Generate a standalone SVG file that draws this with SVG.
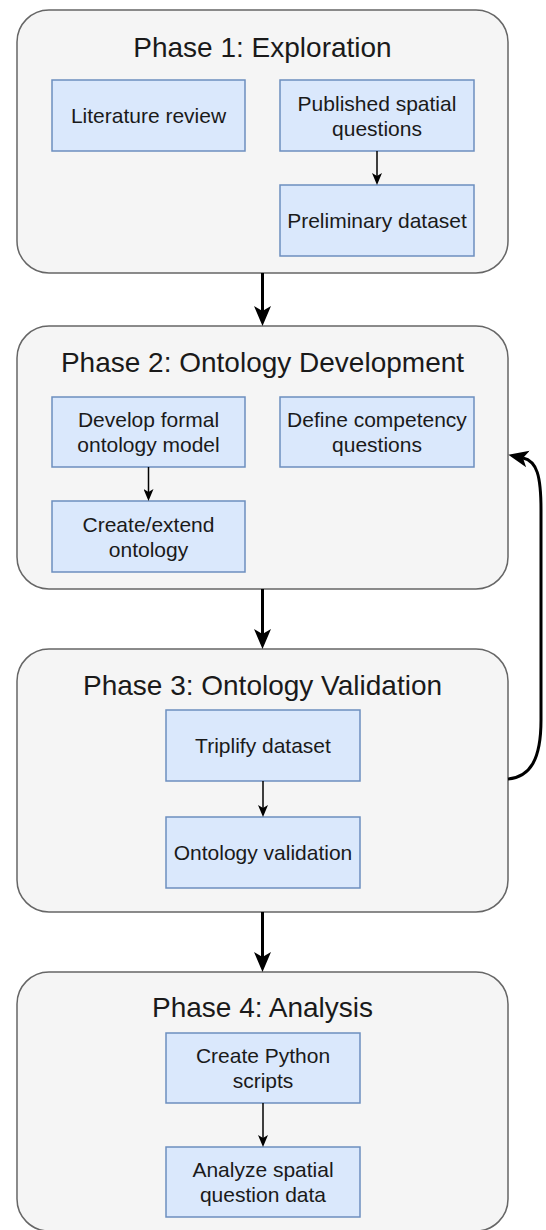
<svg xmlns="http://www.w3.org/2000/svg" width="546" height="1230" viewBox="0 0 546 1230">
<style>
.phase{fill:#f5f5f5;stroke:#666666;stroke-width:1.5}
.box{fill:#dae8fc;stroke:#6c8ebf;stroke-width:1.5}
.title{font-family:"Liberation Sans",Arial,Helvetica,sans-serif;font-size:28px;fill:#1a1a1a;text-anchor:middle}
.lbl{font-family:"Liberation Sans",Arial,Helvetica,sans-serif;font-size:21px;fill:#1a1a1a;text-anchor:middle}
.thick{fill:none;stroke:#000;stroke-width:3}
.thin{fill:none;stroke:#000;stroke-width:1.5}
</style>
<defs>
<marker id="big" viewBox="0 -9 20 18" refX="5" refY="0" markerWidth="20" markerHeight="18" markerUnits="userSpaceOnUse" orient="auto">
<path d="M0,-8.5 L20,0 L0,8.5 L5,0 z" fill="#000"/>
</marker>
<marker id="small" viewBox="0 -5 12 10" refX="3" refY="0" markerWidth="12" markerHeight="10" markerUnits="userSpaceOnUse" orient="auto">
<path d="M0,-5 L12,0 L0,5 L3,0 z" fill="#000"/>
</marker>
</defs>

<g id="phase1">
<rect class="phase" x="17" y="10" width="491" height="263" rx="32" ry="32"/>
<text class="title" x="262.5" y="57">Phase 1: Exploration</text>
</g>
<g id="literature-review">
<rect class="box" x="52" y="80" width="193" height="71"/>
<text class="lbl" x="148.5" y="123">Literature review</text>
</g>
<g id="published-questions">
<rect class="box" x="280" y="80" width="194" height="71"/>
<text class="lbl" x="377" y="110.5">Published spatial</text>
<text class="lbl" x="377" y="135.5">questions</text>
</g>
<g id="preliminary-dataset">
<rect class="box" x="280" y="185" width="194" height="71"/>
<text class="lbl" x="377" y="228">Preliminary dataset</text>
</g>

<g id="phase2">
<rect class="phase" x="17" y="326" width="491" height="263" rx="32" ry="32"/>
<text class="title" x="262.5" y="372">Phase 2: Ontology Development</text>
</g>
<g id="develop-model">
<rect class="box" x="52" y="397" width="193" height="70"/>
<text class="lbl" x="148.5" y="427">Develop formal</text>
<text class="lbl" x="148.5" y="452">ontology model</text>
</g>
<g id="competency-questions">
<rect class="box" x="280" y="397" width="194" height="70"/>
<text class="lbl" x="377" y="427">Define competency</text>
<text class="lbl" x="377" y="452">questions</text>
</g>
<g id="create-ontology">
<rect class="box" x="52" y="501" width="193" height="71"/>
<text class="lbl" x="148.5" y="531.5">Create/extend</text>
<text class="lbl" x="148.5" y="556.5">ontology</text>
</g>

<g id="phase3">
<rect class="phase" x="17" y="649" width="491" height="263" rx="32" ry="32"/>
<text class="title" x="262.5" y="695">Phase 3: Ontology Validation</text>
</g>
<g id="triplify">
<rect class="box" x="166" y="710" width="194" height="71"/>
<text class="lbl" x="263" y="753">Triplify dataset</text>
</g>
<g id="validation">
<rect class="box" x="166" y="817" width="194" height="71"/>
<text class="lbl" x="263" y="860">Ontology validation</text>
</g>

<g id="phase4">
<rect class="phase" x="17" y="972" width="491" height="259" rx="32" ry="32"/>
<text class="title" x="262.5" y="1017">Phase 4: Analysis</text>
</g>
<g id="python-scripts">
<rect class="box" x="166" y="1033" width="194" height="70"/>
<text class="lbl" x="263" y="1063">Create Python</text>
<text class="lbl" x="263" y="1088">scripts</text>
</g>
<g id="analyze-data">
<rect class="box" x="166" y="1147" width="194" height="70"/>
<text class="lbl" x="263" y="1177">Analyze spatial</text>
<text class="lbl" x="263" y="1202">question data</text>
</g>

<g id="connectors">
<path class="thick" d="M262.5,273 L262.5,311" marker-end="url(#big)"/>
<path class="thick" d="M262.5,589 L262.5,634" marker-end="url(#big)"/>
<path class="thick" d="M262.5,912 L262.5,957" marker-end="url(#big)"/>
<path class="thin" d="M377,151 L377,176" marker-end="url(#small)"/>
<path class="thin" d="M148.5,467 L148.5,492" marker-end="url(#small)"/>
<path class="thin" d="M263,781 L263,808" marker-end="url(#small)"/>
<path class="thin" d="M263,1103 L263,1138" marker-end="url(#small)"/>
<path class="thick" d="M508,779 C530,777 541,760 541,720 L541,510 C541,476 537,461 523,458" stroke-width="2.5" marker-end="url(#big)"/>
</g>
</svg>
